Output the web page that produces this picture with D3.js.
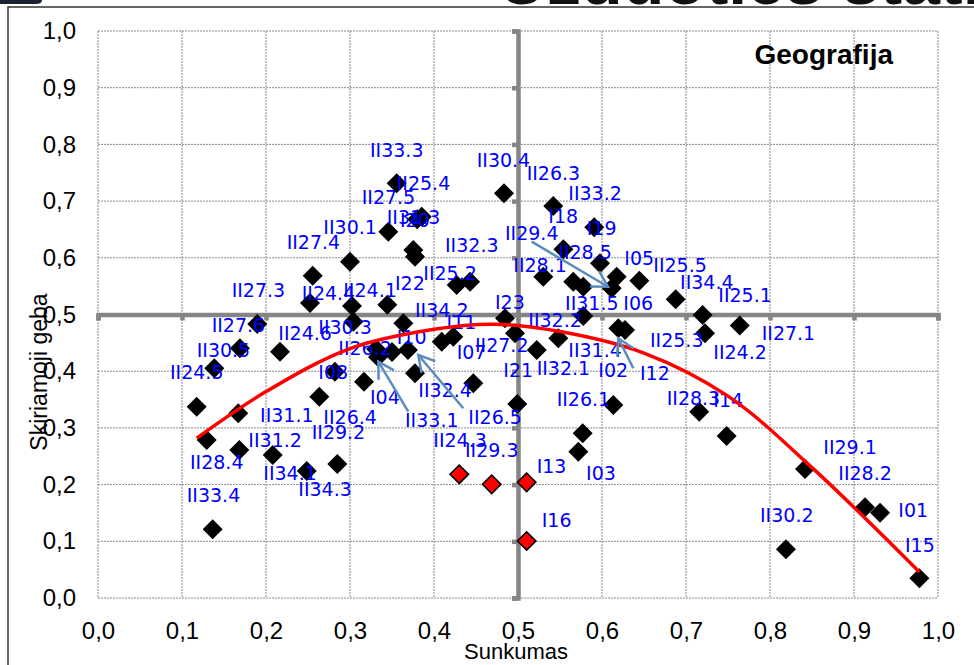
<!DOCTYPE html>
<html>
<head>
<meta charset="utf-8">
<script src="https://cdn.jsdelivr.net/npm/d3@7"></script>
<style>
  body { margin: 0; background: #fff; overflow: hidden; }
  svg { display: block; font-family: "Liberation Sans", Arial, sans-serif; }
</style>
</head>
<body>
<script>
// black items (sunkumas = difficulty, geba = discrimination)
var sunkumas = [0.3556, 0.3854, 0.3800, 0.3456, 0.3754, 0.3774, 0.3000, 0.2556, 0.2524, 0.3024,
    0.3444, 0.1896, 0.3040, 0.3635, 0.1690, 0.2167, 0.3310, 0.3333, 0.3500, 0.3690,
    0.4092, 0.4230, 0.1385, 0.2821, 0.3774, 0.3167, 0.4468, 0.2635, 0.1175, 0.1670,
    0.1294, 0.1682, 0.2080, 0.2849, 0.2485, 0.1365, 0.4270, 0.4429, 0.4833, 0.5420,
    0.5908, 0.5540, 0.5976, 0.5301, 0.5658, 0.5777, 0.6175, 0.6115, 0.6444, 0.6877,
    0.7198, 0.7226, 0.7640, 0.4845, 0.5777, 0.6194, 0.6274, 0.4964, 0.5480, 0.5223,
    0.4992, 0.6135, 0.7158, 0.7484, 0.5770, 0.5718, 0.8417, 0.9131, 0.9310, 0.8190,
    0.9778];
var geba = [0.7314, 0.6725, 0.6680, 0.6460, 0.6138, 0.6020, 0.5931, 0.5684, 0.5203, 0.5150,
    0.5170, 0.4832, 0.4873, 0.4845, 0.4404, 0.4344, 0.4390, 0.4250, 0.4340, 0.4374,
    0.4520, 0.4608, 0.4051, 0.3990, 0.3963, 0.3815, 0.3787, 0.3550, 0.3374, 0.3257,
    0.2787, 0.2610, 0.2522, 0.2363, 0.2240, 0.1212, 0.5520, 0.5578, 0.7138, 0.6914,
    0.6538, 0.6150, 0.5903, 0.5667, 0.5578, 0.5490, 0.5667, 0.5462, 0.5596, 0.5268,
    0.4991, 0.4668, 0.4806, 0.4933, 0.4974, 0.4757, 0.4727, 0.4668, 0.4580, 0.4374,
    0.3422, 0.3404, 0.3286, 0.2857, 0.2905, 0.2580, 0.2275, 0.1600, 0.1504, 0.0859,
    0.0347];

// red items
var redSunkumas = [0.4301, 0.4687, 0.5103, 0.5103];
var redGeba = [0.2182, 0.2005, 0.2040, 0.1005];

// data labels, placed in data units (left edge, middle)
var labelText = ["II33.3", "II25.4", "II27.5", "II31.3", "I20", "II30.1", "II27.4", "II27.3", "II24.4", "II24.1",
    "I22", "II25.2", "II32.3", "II30.4", "II26.3", "II33.2", "I18", "I19", "II29.4", "II28.5",
    "II28.1", "I05", "II25.5", "II34.4", "II25.1", "I23", "II31.5", "I06", "II27.6", "II30.3",
    "II34.2", "II24.6", "II30.5", "II26.2", "I10", "I11", "I07", "II24.5", "I08", "I04",
    "II32.4", "II33.1", "II31.1", "II26.4", "II29.2", "II28.4", "II31.2", "II24.3", "II29.3", "II26.5",
    "II34.1", "II34.3", "II33.4", "II27.2", "II32.2", "I21", "II32.1", "II31.4", "I02", "I12",
    "II25.3", "II24.2", "II27.1", "II26.1", "II28.3", "I14", "I13", "I03", "I16", "II29.1",
    "II28.2", "I01", "II30.2", "I15"];
var labelX = [0.3238, 0.3556, 0.3139, 0.3437, 0.3595, 0.2683, 0.2246, 0.1591, 0.2425, 0.2920,
    0.3536, 0.3873, 0.4131, 0.4508, 0.5103, 0.5599, 0.5361, 0.5818, 0.4845, 0.5480,
    0.4944, 0.6266, 0.6611, 0.6929, 0.7385, 0.4726, 0.5560, 0.6254, 0.1353, 0.2623,
    0.3774, 0.2147, 0.1175, 0.2861, 0.3556, 0.4150, 0.4270, 0.0857, 0.2623, 0.3238,
    0.3813, 0.3655, 0.1929, 0.2683, 0.2544, 0.1095, 0.1790, 0.3992, 0.4369, 0.4409,
    0.1968, 0.2385, 0.1056, 0.4488, 0.5123, 0.4825, 0.5222, 0.5599, 0.5956, 0.6452,
    0.6571, 0.7325, 0.7901, 0.5460, 0.6770, 0.7325, 0.5222, 0.5810, 0.5282, 0.8635,
    0.8813, 0.9528, 0.7881, 0.9607];
var labelY = [0.7901, 0.7314, 0.7078, 0.6725, 0.6667, 0.6548, 0.6284, 0.5432, 0.5373, 0.5432,
    0.5550, 0.5727, 0.6226, 0.7725, 0.7490, 0.7137, 0.6737, 0.6520, 0.6432, 0.6108,
    0.5873, 0.5991, 0.5873, 0.5579, 0.5344, 0.5226, 0.5197, 0.5197, 0.4815, 0.4785,
    0.5079, 0.4668, 0.4374, 0.4404, 0.4608, 0.4873, 0.4344, 0.3991, 0.3991, 0.3550,
    0.3668, 0.3139, 0.3228, 0.3198, 0.2933, 0.2404, 0.2787, 0.2787, 0.2610, 0.3198,
    0.2199, 0.1917, 0.1817, 0.4462, 0.4903, 0.4021, 0.4051, 0.4374, 0.4021, 0.3974,
    0.4550, 0.4344, 0.4668, 0.3504, 0.3522, 0.3492, 0.2328, 0.2210, 0.1376, 0.2668,
    0.2199, 0.1552, 0.1464, 0.0935];

// callout arrows: [fromX, fromY, toX, toY]
var arrows = [
    [0.5163, 0.6284, 0.6071, 0.5490],
    [0.3694, 0.3286, 0.3337, 0.4168],
    [0.4349, 0.3346, 0.3813, 0.4286],
    [0.6373, 0.4051, 0.6194, 0.4580]
];

// trend curve
var trendX = [0.1175, 0.2, 0.3, 0.4, 0.47, 0.55, 0.65, 0.75, 0.85, 0.9778];
var trendY = [0.282, 0.364, 0.440, 0.474, 0.483, 0.470, 0.432, 0.356, 0.230, 0.046];

var ticks = d3.range(0, 11).map(function (i) { return i / 10; });

var margin = { top: 31, right: 36, bottom: 67, left: 98 },
    width = 974 - margin.left - margin.right,
    height = 665 - margin.top - margin.bottom;

var lt = d3.formatLocale({ decimal: ",", thousands: " ", grouping: [3], currency: ["", ""] });
var fmt = lt.format(".1f");

var x = d3.scaleLinear().domain([0, 1]).range([0, width]);
var y = d3.scaleLinear().domain([0, 1]).range([height, 0]);

var root = d3.select("body").append("svg")
    .attr("width", 974)
    .attr("height", 665);

// page bits around the chart
root.append("text")
    .attr("x", 498)
    .attr("y", 4)
    .style("font-size", "68px")
    .style("font-weight", "bold")
    .style("fill", "#111")
    .text("Užduoties statistika");

root.append("path")
    .attr("d", "M0,0H42Q42,4 36,4H0Z")
    .style("fill", "#1c2233");

root.append("rect")
    .attr("x", 8)
    .attr("y", 7)
    .attr("width", 1000)
    .attr("height", 700)
    .style("fill", "none")
    .style("stroke", "#333")
    .style("stroke-width", 1.5);

var svg = root.append("g")
    .attr("transform", "translate(" + margin.left + "," + margin.top + ")");

// dotted grid
svg.selectAll(".vgrid")
    .data(ticks)
    .enter().append("line")
    .attr("class", "vgrid")
    .attr("x1", function (d) { return x(d); })
    .attr("x2", function (d) { return x(d); })
    .attr("y1", 0)
    .attr("y2", height)
    .style("stroke", "#8a8a8a")
    .style("stroke-width", 1)
    .style("stroke-dasharray", "2,1");

svg.selectAll(".hgrid")
    .data(ticks)
    .enter().append("line")
    .attr("class", "hgrid")
    .attr("x1", 0)
    .attr("x2", width)
    .attr("y1", function (d) { return y(d); })
    .attr("y2", function (d) { return y(d); })
    .style("stroke", "#8a8a8a")
    .style("stroke-width", 1)
    .style("stroke-dasharray", "2,1");

// tick labels
var xAxis = svg.append("g")
    .attr("transform", "translate(0," + height + ")")
    .call(d3.axisBottom(x).tickValues(ticks).tickFormat(fmt).tickSize(0).tickPadding(24));
var yAxis = svg.append("g")
    .call(d3.axisLeft(y).tickValues(ticks).tickFormat(fmt).tickSize(0).tickPadding(22));
[xAxis, yAxis].forEach(function (a) {
    a.select(".domain").remove();
    a.selectAll("text")
        .style("font-family", "'Liberation Sans', Arial, sans-serif")
        .style("font-size", "24px")
        .style("fill", "#000");
});

// grey crossing axes at 0,5
var midX = svg.append("g")
    .attr("transform", "translate(0," + y(0.5) + ")")
    .call(d3.axisBottom(x).tickValues(ticks).tickFormat("").tickSize(6));
var midY = svg.append("g")
    .attr("transform", "translate(" + x(0.5) + ",0)")
    .call(d3.axisLeft(y).tickValues(ticks).tickFormat("").tickSize(6));
[midX, midY].forEach(function (a) {
    a.selectAll("path, line")
        .style("stroke", "#858585")
        .style("stroke-width", 4.5)
        .style("fill", "none");
});

// axis titles
root.append("text")
    .attr("x", 516)
    .attr("y", 659)
    .style("text-anchor", "middle")
    .style("font-size", "22px")
    .text("Sunkumas");

root.append("text")
    .attr("transform", "translate(47,372) rotate(-90)")
    .style("text-anchor", "middle")
    .style("font-size", "23px")
    .text("Skiriamoji geba");

root.append("text")
    .attr("x", 893)
    .attr("y", 64)
    .style("text-anchor", "end")
    .style("font-size", "28px")
    .style("font-weight", "bold")
    .text("Geografija");

// markers
var diamond = d3.symbol().type(d3.symbolSquare).size(200);

svg.selectAll(".pt")
    .data(d3.range(sunkumas.length))
    .enter().append("path")
    .attr("class", "pt")
    .attr("d", diamond)
    .attr("transform", function (i) {
        return "translate(" + x(sunkumas[i]) + "," + y(geba[i]) + ") rotate(45)";
    })
    .style("fill", "#000");

svg.selectAll(".red")
    .data(d3.range(redSunkumas.length))
    .enter().append("path")
    .attr("class", "red")
    .attr("d", d3.symbol().type(d3.symbolSquare).size(170))
    .attr("transform", function (i) {
        return "translate(" + x(redSunkumas[i]) + "," + y(redGeba[i]) + ") rotate(45)";
    })
    .style("fill", "#ff0000")
    .style("stroke", "#000")
    .style("stroke-width", 1.6);

// data labels
svg.selectAll(".lbl")
    .data(labelText)
    .enter().append("text")
    .attr("class", "lbl")
    .attr("x", function (d, i) { return x(labelX[i]); })
    .attr("y", function (d, i) { return y(labelY[i]); })
    .attr("dy", "0.36em")
    .style("font-family", "'DejaVu Sans', sans-serif")
    .style("font-size", "19px")
    .style("fill", "#0000ff")
    .text(function (d) { return d; });

// trend line
var line = d3.line()
    .x(function (i) { return x(trendX[i]); })
    .y(function (i) { return y(trendY[i]); })
    .curve(d3.curveCatmullRom);

svg.append("path")
    .datum(d3.range(trendX.length))
    .attr("d", line)
    .style("fill", "none")
    .style("stroke", "#ff0000")
    .style("stroke-width", 3.5);

// callout arrows with open heads
arrows.forEach(function (a) {
    var x1 = x(a[0]), y1 = y(a[1]), x2 = x(a[2]), y2 = y(a[3]);
    var ang = Math.atan2(y1 - y2, x1 - x2), len = 18, spread = Math.PI / 6;
    var g = svg.append("g")
        .style("stroke", "#5b8cc0")
        .style("stroke-width", 2.5)
        .style("fill", "none");
    g.append("line").attr("x1", x1).attr("y1", y1).attr("x2", x2).attr("y2", y2);
    g.append("path")
        .attr("d", "M" + (x2 + len * Math.cos(ang - spread)) + "," + (y2 + len * Math.sin(ang - spread)) +
            "L" + x2 + "," + y2 +
            "L" + (x2 + len * Math.cos(ang + spread)) + "," + (y2 + len * Math.sin(ang + spread)));
});
</script>
</body>
</html>
